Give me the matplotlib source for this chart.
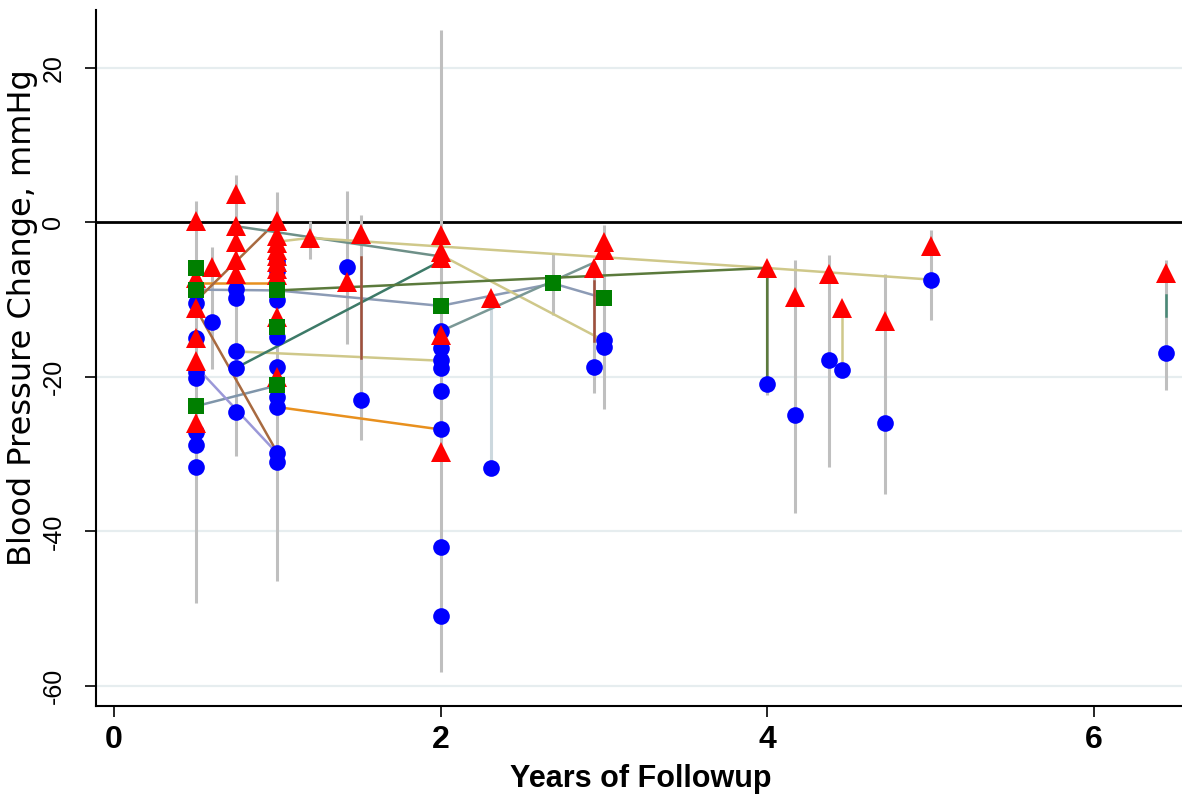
import matplotlib
matplotlib.use('Agg')
import matplotlib.pyplot as plt

plt.rcParams['axes.unicode_minus'] = False

# follow-up (years) and BP change (mmHg) for each arm type
tri_x = [0.5, 0.5, 0.5, 0.5, 0.5, 0.5, 0.6, 0.75, 0.75, 0.75, 0.75, 0.75,
         1.0, 1.0, 1.0, 1.0, 1.0, 1.0, 1.0, 1.0, 1.0, 1.0, 1.2, 1.43, 1.51,
         2.0, 2.0, 2.0, 2.0, 2.0, 2.31, 2.94, 3.0, 3.0,
         4.0, 4.17, 4.38, 4.46, 4.72, 5.0, 6.44]
tri_y = [0.2, -7.2, -11.1, -15.0, -18.0, -26.0, -5.8, 3.7, -0.5, -2.5, -4.8, -6.7,
         0.2, -1.8, -2.7, -3.6, -4.3, -5.1, -6.0, -6.8, -12.3, -20.0, -2.0, -7.7, -1.5,
         -1.6, -3.8, -4.6, -14.6, -29.7, -9.8, -5.9, -2.5, -3.6,
         -5.9, -9.7, -6.7, -11.1, -12.8, -3.1, -6.6]

circ_x = [0.5, 0.5, 0.5, 0.5, 0.5, 0.5, 0.5, 0.6, 0.75, 0.75, 0.75, 0.75, 0.75,
          1.0, 1.0, 1.0, 1.0, 1.0, 1.0, 1.0, 1.0, 1.0, 1.43, 1.51,
          2.0, 2.0, 2.0, 2.0, 2.0, 2.0, 2.0, 2.0, 2.31, 2.94, 3.0, 3.0,
          4.0, 4.17, 4.38, 4.46, 4.72, 5.0, 6.44]
circ_y = [-10.4, -15.0, -19.3, -20.2, -27.1, -28.8, -31.7, -12.9, -8.6, -9.8, -16.7, -18.8, -24.6,
          -5.0, -6.3, -10.0, -14.8, -18.7, -22.6, -23.9, -29.9, -31.0, -5.8, -23.0,
          -14.1, -16.3, -17.8, -18.9, -21.8, -26.8, -42.0, -51.0, -31.8, -18.7, -15.2, -16.1,
          -20.9, -24.9, -17.8, -19.1, -25.9, -7.4, -16.9]

sq_x = [0.5, 0.5, 0.5, 1.0, 1.0, 1.0, 2.0, 2.69, 3.0]
sq_y = [-5.9, -8.7, -23.8, -8.8, -13.5, -21.1, -10.8, -7.9, -9.8]

# confidence intervals
ci_x = [0.5, 0.6, 0.75, 1.0, 1.2, 1.43, 1.51, 2.0, 2.69, 2.94, 3.0,
        4.0, 4.17, 4.38, 4.72, 5.0, 6.44]
ci_hi = [2.8, -3.2, 6.1, 3.9, 0.2, 4.1, 0.9, 24.9, -4.0, -7.0, -0.3,
         -5.9, -4.9, -4.2, -6.7, -1.0, -4.9]
ci_lo = [-49.3, -19.0, -30.3, -46.4, -4.7, -15.7, -28.2, -58.2, -12.0, -22.1, -24.1,
         -22.4, -37.6, -31.7, -35.1, -12.6, -21.7]
# the one lighter interval
ci2_x = [2.31]
ci2_hi = [-9.8]
ci2_lo = [-31.8]

# arms of the same study joined
link_x = [[0.5, 1.0, 2.0, 2.69, 3.0], [0.5, 1.0], [1.0, 2.0], [0.5, 1.0], [0.5, 1.0],
          [0.5, 1.0], [0.5, 1.0], [0.75, 2.0], [1.0, 1.2, 4.0, 5.0], [2.0, 3.0],
          [0.75, 2.0], [4.46, 4.46], [0.75, 2.0], [2.0, 2.94], [1.0, 4.0, 4.0],
          [1.51, 1.51], [2.94, 2.94], [6.44, 6.44]]
link_y = [[-8.7, -8.8, -10.8, -7.9, -9.8], [-7.9, -7.9], [-23.9, -26.8], [-23.8, -21.1],
          [-18.6, -29.9], [-10.2, 0.2], [-11.1, -29.8], [-0.5, -4.4],
          [-2.5, -2.0, -5.9, -7.4], [-4.2, -15.3], [-16.7, -17.9], [-11.1, -19.1],
          [-18.8, -5.0], [-14.1, -5.2], [-8.8, -5.9, -20.9],
          [-4.5, -17.5], [-7.6, -15.3], [-9.4, -12.1]]
link_colors = ['#8c9bb5', '#e8901e', '#e8901e', '#7f95aa', '#9b98d8', '#a86a40', '#a86a40',
               '#6e9088', '#cfc88a', '#cfc88a', '#cfc88a', '#cfc88a', '#3d7a68', '#7a9896',
               '#5b7a3c', '#a0503c', '#a0503c', '#4a8a78']

x_ticks = [0, 2, 4, 6]
y_ticks = [-60, -40, -20, 0, 20]

fig = plt.figure(figsize=(11.82, 7.97), dpi=100)
ax = fig.add_axes([96 / 1182, 1 - 706 / 797, 1086 / 1182, 696 / 797])

for yv in y_ticks:
    if yv != 0:
        ax.axhline(yv, color='#e6edef', lw=1.6, zorder=0)
ax.axhline(0, color='black', lw=2, zorder=1)

ax.vlines(ci_x, ci_lo, ci_hi, colors='#bfbfbf', lw=2.2, zorder=2)
ax.vlines(ci2_x, ci2_lo, ci2_hi, colors='#ccd8de', lw=2.2, zorder=2)

for xs, ys, c in zip(link_x, link_y, link_colors):
    ax.plot(xs, ys, color=c, lw=1.8, zorder=3)

ax.plot(circ_x, circ_y, 'o', ls='none', color='#0000ff', ms=12, mew=0, zorder=4)
ax.plot(tri_x, tri_y, '^', ls='none', color='#ff0000', ms=14, mew=0, zorder=5)
ax.plot(sq_x, sq_y, 's', ls='none', color='#007f00', ms=12, mew=0, zorder=6)

ax.set_xlim(-0.11, 6.54)
ax.set_ylim(-62.6, 27.5)
ax.spines['top'].set_visible(False)
ax.spines['right'].set_visible(False)
ax.spines['left'].set_linewidth(1.5)
ax.spines['bottom'].set_linewidth(1.5)

ax.set_xticks(x_ticks)
ax.set_yticks(y_ticks)
ax.tick_params(axis='both', direction='out', length=8, width=1.2)
ax.tick_params(axis='y', pad=14)
ax.tick_params(axis='x', pad=6)
for t in ax.get_xticklabels():
    t.set_family('Liberation Sans')
    t.set_fontsize(23)
    t.set_fontweight('bold')
for t in ax.get_yticklabels():
    t.set_family('Liberation Sans')
    t.set_fontsize(18)
    t.set_rotation(90)
    t.set_va('center')

fig.text(23 / 1182, 1 - 318 / 797, 'Blood Pressure Change, mmHg', rotation=90,
         ha='center', va='center', fontsize=23, family='DejaVu Sans')
fig.text(641 / 1182, 1 - 787 / 797, 'Years of Followup', ha='center', va='baseline',
         fontsize=22, fontweight='bold', family='Liberation Sans')

fig.savefig('out.png', dpi=100)
